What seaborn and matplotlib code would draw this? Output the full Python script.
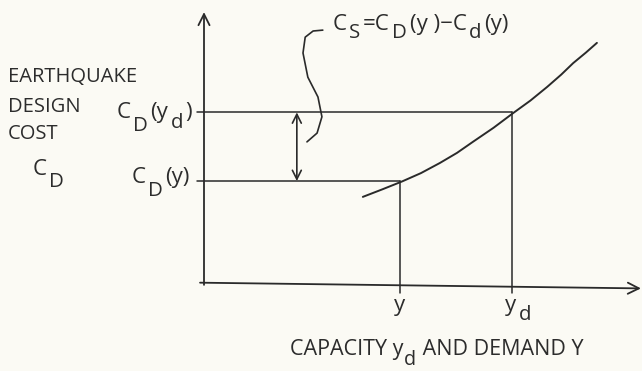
import numpy as np
import pandas as pd
import matplotlib
matplotlib.use("Agg")
import matplotlib.pyplot as plt
from matplotlib import font_manager
from matplotlib.transforms import offset_copy
import seaborn as sns

# schematic values (arbitrary units)
capacity = [3.61, 4.05, 4.50, 4.93, 5.36, 5.75, 6.11, 6.58, 7.02, 7.42, 7.80, 8.12, 8.39, 8.68, 8.93]
cost = [1.98, 2.15, 2.33, 2.52, 2.75, 2.98, 3.23, 3.55, 3.88, 4.17, 4.48, 4.76, 5.02, 5.26, 5.48]
y_demand = 4.45
y_capacity = 7.0
cd_y = 2.34
cd_yd = 3.90

# leader curve from the difference arrow up to the formula
brace_x = [2.34, 2.57, 2.68, 2.59, 2.36, 2.25, 2.30, 2.48, 2.70]
brace_y = [3.23, 3.43, 3.80, 4.25, 4.70, 5.25, 5.61, 5.75, 5.77]

ink = "#2a2a2a"
txt = "#2c2c2c"
bg = "#fbfaf4"

sns.set_style("white")
installed = {f.name for f in font_manager.fontManager.ttflist}
if 'Liberation Sans Narrow' in installed:
    face, k = 'Liberation Sans Narrow', 1.145
else:
    face, k = 'Open Sans', 1.0
plt.rcParams['font.family'] = [face, 'DejaVu Sans']
fs = 14.5 * k

fig = plt.figure(figsize=(6.42, 3.71), dpi=100)
fig.patch.set_facecolor(bg)
ax = fig.add_axes([0, 0, 1, 1])
ax.set_facecolor(bg)
ax.set_xlim(-204 / 44, 438 / 44)
ax.set_ylim(-87 / 44, 284 / 44)
ax.axis('off')
renderer = fig.canvas.get_renderer()


def rich(x, y, parts, ha='left', size=16, gap=2.5):
    # parts: (string, drop in pixels); subscripts stay nearly full size, just lowered
    placed = []
    cursor = 0.0
    for s, drop in parts:
        sz = size * k if drop == 0 else size * k * 0.92
        t = ax.text(x, y, s, fontsize=sz, color=txt, ha='left', va='baseline',
                    fontweight='medium',
                    transform=offset_copy(ax.transData, fig=fig, x=cursor, y=-drop, units='dots'))
        w = t.get_window_extent(renderer).width
        placed.append((t, cursor, drop))
        cursor += w + gap
    cursor -= gap
    if ha != 'left':
        shift = cursor if ha == 'right' else cursor / 2
        for t, c, drop in placed:
            t.set_transform(offset_copy(ax.transData, fig=fig, x=c - shift, y=-drop, units='dots'))


# axes with arrows
ax.annotate('', xy=(0, 6.18), xytext=(0, -0.02),
            arrowprops=dict(arrowstyle='->', lw=1.3, color=ink, mutation_scale=20,
                            shrinkA=0, shrinkB=0))
ax.annotate('', xy=(9.93, -0.1), xytext=(-0.09, 0.03),
            arrowprops=dict(arrowstyle='->', lw=1.3, color=ink, mutation_scale=20,
                            shrinkA=0, shrinkB=0))

# cost curve
curve = pd.DataFrame({'capacity': capacity, 'cost': cost})
sns.lineplot(data=curve, x='capacity', y='cost', ax=ax, color=ink, lw=1.4, sort=False)

# guide lines
ax.plot([-0.16, y_demand], [cd_y, cd_y], color=ink, lw=1.1)
ax.plot([-0.16, y_capacity], [cd_yd, cd_yd], color=ink, lw=1.1)
ax.plot([y_demand, y_demand], [cd_y, -0.2], color=ink, lw=1.1)
ax.plot([y_capacity, y_capacity], [cd_yd, -0.2], color=ink, lw=1.1)

# difference arrow and leader
ax.annotate('', xy=(2.11, cd_yd), xytext=(2.11, cd_y),
            arrowprops=dict(arrowstyle='<->', lw=1.2, color=ink, mutation_scale=16,
                            shrinkA=0, shrinkB=0))
brace = pd.DataFrame({'x': brace_x, 'y': brace_y})
sns.lineplot(data=brace, x='x', y='y', ax=ax, color=ink, lw=1.2, sort=False)
ax.set_xlabel('')
ax.set_ylabel('')

rich(2.93, 5.77, [('C', 0), ('S', 8), ('=C', 0), ('D', 8), ('(y )\u2212C', 0), ('d', 8), ('(y)', 0)])

for label, yy in [('EARTHQUAKE', 4.59), ('DESIGN', 3.91), ('COST', 3.30)]:
    ax.text(-4.45, yy, label, fontsize=fs, color=txt, ha='left', va='baseline',
            fontweight='medium')
rich(-3.89, 2.48, [('C', 0), ('D', 12)])

rich(-0.27, 3.77, [('C', 0), ('D', 13), ('(y', 0), ('d', 10), (')', 0)], ha='right')
rich(-0.32, 2.30, [('C', 0), ('D', 13), ('(y)', 0)], ha='right')

rich(y_demand, -0.61, [('y', 0)], ha='center')
rich(6.84, -0.61, [('y', 0), ('d', 9)])
rich(5.29, -1.61, [('CAPACITY y', 0), ('d', 10), (' AND DEMAND Y', 0)], ha='center',
     size=15.5, gap=1)

fig.savefig('out.png', dpi=100, facecolor=bg)
